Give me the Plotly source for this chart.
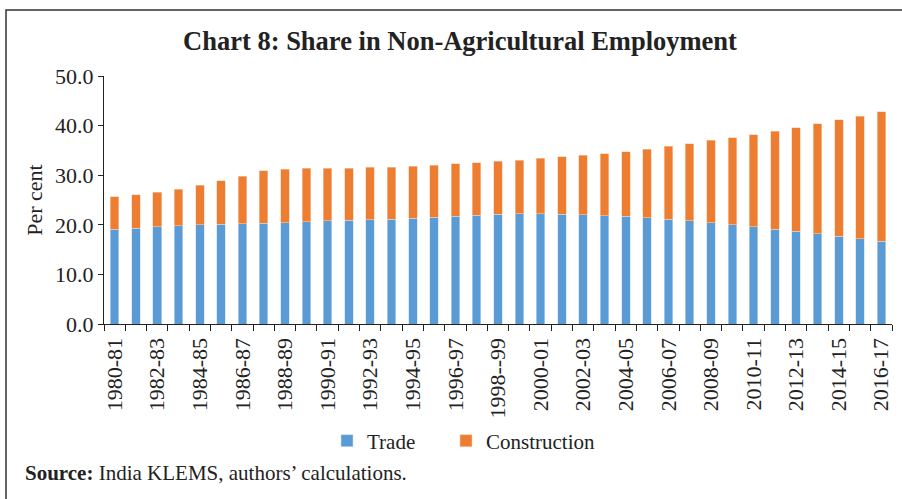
import plotly.graph_objects as go

categories = [
    "1980-81", "1981-82", "1982-83", "1983-84", "1984-85", "1985-86", "1986-87",
    "1987-88", "1988-89", "1989-90", "1990-91", "1991-92", "1992-93", "1993-94",
    "1994-95", "1995-96", "1996-97", "1997-98", "1998--99", "1999-00", "2000-01",
    "2001-02", "2002-03", "2003-04", "2004-05", "2005-06", "2006-07", "2007-08",
    "2008-09", "2009-10", "2010-11", "2011-12", "2012-13", "2013-14", "2014-15",
    "2015-16", "2016-17",
]

trade = [
    19.1, 19.3, 19.6, 19.8, 20.0, 20.1, 20.2, 20.3, 20.4, 20.6, 20.8, 20.9, 21.0,
    21.1, 21.3, 21.5, 21.7, 21.9, 22.1, 22.2, 22.2, 22.1, 22.0, 21.8, 21.7,
    21.4, 21.1, 20.8, 20.4, 20.0, 19.6, 19.1, 18.7, 18.2, 17.7, 17.2, 16.7,
]

total = [
    25.7, 26.1, 26.6, 27.2, 28.0, 28.9, 29.8, 30.9, 31.2, 31.4, 31.4, 31.4, 31.6,
    31.6, 31.8, 32.0, 32.3, 32.5, 32.8, 33.0, 33.4, 33.7, 34.0, 34.3, 34.7,
    35.2, 35.8, 36.3, 37.0, 37.6, 38.2, 38.9, 39.6, 40.4, 41.2, 41.9, 42.8,
]

construction = [round(t - tr, 1) for t, tr in zip(total, trade)]

tick_text = [c if i % 2 == 0 else "" for i, c in enumerate(categories)]

y_ticks = [0, 10, 20, 30, 40, 50]

FONT = "Liberation Serif, Times New Roman, serif"
INK = "#222222"

W, H = 902, 499
ML, MR, MT, MB = 104, 10, 76, 175
PW = W - ML - MR
PH = H - MT - MB


def px_x(x):
    return (x - ML) / PW


def px_y(y):
    return (H - MB - y) / PH


fig = go.Figure()
fig.add_trace(go.Bar(
    x=categories, y=trade, name="Trade", legend="legend", showlegend=True,
    marker=dict(color="#5B9BD5", line=dict(color="#C9DDF0", width=0.6)),
))
fig.add_trace(go.Bar(
    x=categories, y=construction, name="Construction", legend="legend2",
    showlegend=True,
    marker=dict(color="#ED7D31", line=dict(color="#F7CDB0", width=0.6)),
))

legend_common = dict(
    orientation="h",
    yanchor="middle",
    xanchor="left",
    y=px_y(441),
    font=dict(family=FONT, size=21, color=INK),
    itemwidth=30,
    bgcolor="rgba(0,0,0,0)",
)

fig.update_layout(
    width=W, height=H,
    showlegend=True,
    barmode="stack",
    bargap=0.6,
    plot_bgcolor="white",
    paper_bgcolor="white",
    margin=dict(l=ML, r=MR, t=MT, b=MB, autoexpand=False),
    font=dict(family=FONT, color=INK, size=21),
    title=dict(
        text="<b>Chart 8: Share in Non-Agricultural Employment</b>",
        x=460 / W, xanchor="center",
        y=1 - 41 / H, yanchor="middle",
        font=dict(family=FONT, size=26.5, color=INK),
    ),
    xaxis=dict(
        type="category",
        tickmode="array",
        tickvals=categories,
        ticktext=tick_text,
        tickson="boundaries",
        ticks="outside",
        ticklen=6,
        tickcolor=INK,
        tickangle=-90,
        ticklabelstandoff=4,
        showline=True,
        linecolor=INK,
        linewidth=1.3,
        showgrid=False,
        automargin=False,
        tickfont=dict(family=FONT, size=22, color=INK),
    ),
    yaxis=dict(
        range=[0, 50],
        tickmode="array",
        tickvals=y_ticks,
        ticktext=[f"{v:.1f}" for v in y_ticks],
        ticks="outside",
        ticklen=5,
        tickcolor=INK,
        showline=True,
        linecolor=INK,
        linewidth=1.3,
        showgrid=False,
        zeroline=False,
        automargin=False,
        tickfont=dict(family=FONT, size=22, color=INK),
        title=dict(text="Per cent", standoff=6,
                   font=dict(family=FONT, size=22, color=INK)),
    ),
    legend=dict(legend_common, x=px_x(327)),
    legend2=dict(legend_common, x=px_x(446)),
    annotations=[
        dict(
            text="<b>Source:</b> India KLEMS, authors’ calculations.",
            xref="paper", yref="paper",
            x=px_x(23), y=px_y(473),
            xanchor="left", yanchor="middle",
            showarrow=False,
            font=dict(family=FONT, size=21, color=INK),
        )
    ],
    shapes=[
        dict(
            type="rect", xref="paper", yref="paper",
            x0=px_x(6), x1=px_x(908), y0=px_y(505), y1=px_y(10),
            line=dict(color="#333333", width=1.5),
            fillcolor="rgba(0,0,0,0)",
            layer="above",
        )
    ],
)

fig.write_html(
    "out.html",
    config={"displayModeBar": False},
    post_script="document.body.style.margin='0';",
)
